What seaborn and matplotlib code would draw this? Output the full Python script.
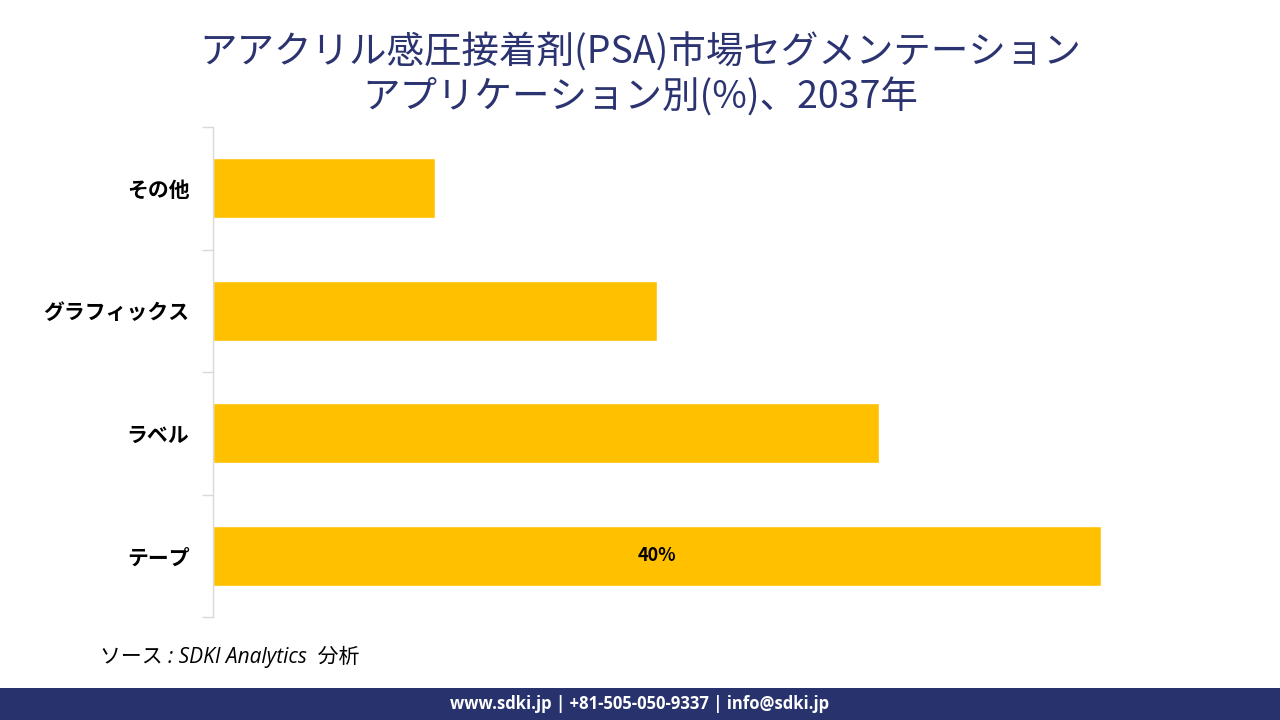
import matplotlib
matplotlib.use("Agg")
import matplotlib.pyplot as plt
import seaborn as sns
import pandas as pd
from matplotlib.patches import Rectangle

categories = ["その他", "グラフィックス", "ラベル", "テープ"]
values = [10, 20, 30, 40]
labels = ["", "", "", "40%"]

title = "アアクリル感圧接着剤(PSA)市場セグメンテーション\nアプリケーション別(%)、2037年"
source = "ソース : SDKI Analytics  分析"
footer = "www.sdki.jp | +81-505-050-9337 | info@sdki.jp"

sns.set_theme(style="white")
plt.rcParams['font.family'] = ['Noto Sans CJK JP', 'DejaVu Sans']

df = pd.DataFrame({"cat": categories, "val": values})

fig = plt.figure(figsize=(12.8, 7.2), dpi=100)
ax = fig.add_axes([213/1280, (720-617)/720, 977/1280, 490/720])
sns.barplot(data=df, y="cat", x="val", order=categories, color="#FFC000",
            width=0.49, ax=ax, saturation=1)
ax.set_xlim(0, 44)
ax.set_ylim(3.5, -0.5)
ax.set_xlabel("")
ax.set_ylabel("")
ax.set_xticks([])
for s in ["top", "right", "bottom"]:
    ax.spines[s].set_visible(False)
ax.spines["left"].set_color("#D9D9D9")
ax.spines["left"].set_linewidth(1)
ax.set_yticks(range(len(categories)))
ax.set_yticklabels(categories, fontsize=15, fontweight="bold", color="black")
ax.tick_params(axis="y", which="major", left=False, length=0, pad=17)
ax.set_yticks([i - 0.5 for i in range(len(categories) + 1)], minor=True)
ax.tick_params(axis="y", which="minor", left=True, length=8, color="#D9D9D9",
               width=1, direction="out")

for i, (v, lab) in enumerate(zip(values, labels)):
    if lab:
        ax.text(v / 2, i, lab, ha="center", va="center", fontsize=13,
                fontweight="bold", color="black")

fig.text(0.5, 1 - 33/720, title, ha="center", va="top", fontsize=27,
         color="#2B3470", linespacing=1.2)

fig.text(100/1280, 1 - 657/720, source, ha="left", va="center", fontsize=15,
         style="italic", color="black", family=['Open Sans', 'Noto Sans CJK JP'])

fig.patches.append(Rectangle((0, 0), 1, 32/720, transform=fig.transFigure,
                             facecolor="#28336E", edgecolor="none", zorder=0))
fig.text(0.5, 16/720, footer, ha="center", va="center", fontsize=12,
         fontweight="bold", color="white", family=['Open Sans', 'DejaVu Sans'])

fig.savefig("out.png", dpi=100)
